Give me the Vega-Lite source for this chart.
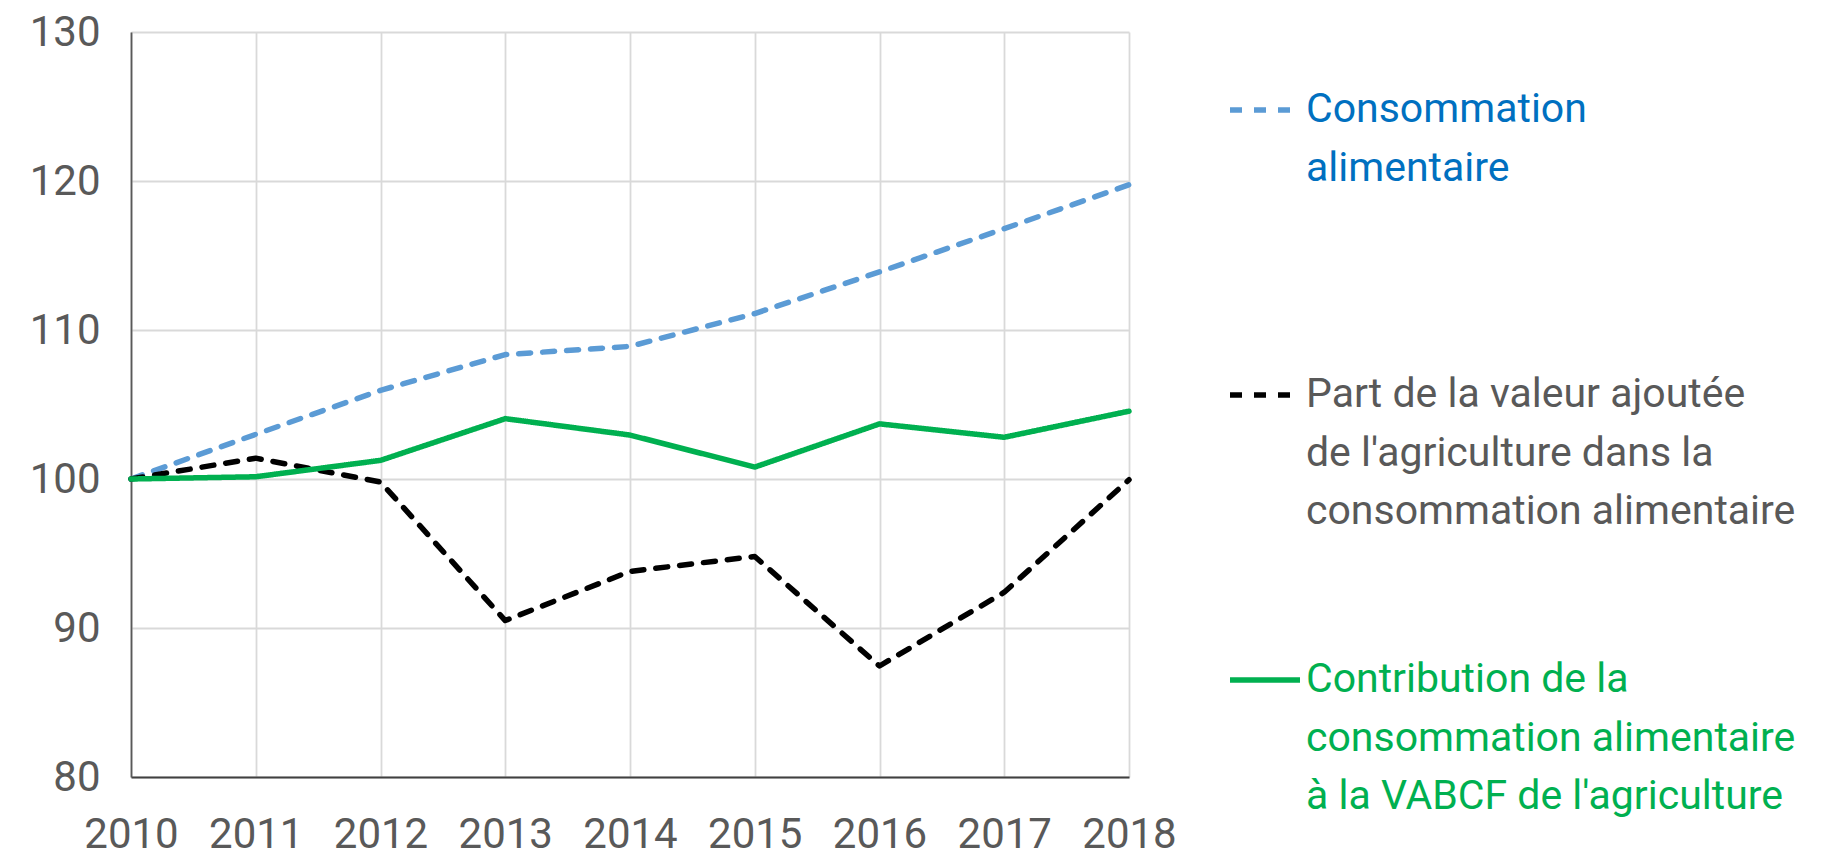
{
  "$schema": "https://vega.github.io/schema/vega-lite/v6.json",
  "width": 998,
  "height": 745,
  "autosize": {"type": "none"},
  "padding": {"left": 131, "top": 32, "right": 706, "bottom": 80},
  "background": "white",
  "config": {"view": {"stroke": null}, "font": "Roboto"},
  "data": {
    "values": [
      {"year": 2010, "series": "Consommation alimentaire", "value": 100},
      {"year": 2011, "series": "Consommation alimentaire", "value": 103.0},
      {"year": 2012, "series": "Consommation alimentaire", "value": 105.95},
      {"year": 2013, "series": "Consommation alimentaire", "value": 108.35},
      {"year": 2014, "series": "Consommation alimentaire", "value": 108.9},
      {"year": 2015, "series": "Consommation alimentaire", "value": 111.1},
      {"year": 2016, "series": "Consommation alimentaire", "value": 113.9},
      {"year": 2017, "series": "Consommation alimentaire", "value": 116.8},
      {"year": 2018, "series": "Consommation alimentaire", "value": 119.75},
      {"year": 2010, "series": "Part de la valeur ajoutée de l'agriculture dans la consommation alimentaire", "value": 100},
      {"year": 2011, "series": "Part de la valeur ajoutée de l'agriculture dans la consommation alimentaire", "value": 101.4},
      {"year": 2012, "series": "Part de la valeur ajoutée de l'agriculture dans la consommation alimentaire", "value": 99.8},
      {"year": 2013, "series": "Part de la valeur ajoutée de l'agriculture dans la consommation alimentaire", "value": 90.5},
      {"year": 2014, "series": "Part de la valeur ajoutée de l'agriculture dans la consommation alimentaire", "value": 93.8},
      {"year": 2015, "series": "Part de la valeur ajoutée de l'agriculture dans la consommation alimentaire", "value": 94.8},
      {"year": 2016, "series": "Part de la valeur ajoutée de l'agriculture dans la consommation alimentaire", "value": 87.45},
      {"year": 2017, "series": "Part de la valeur ajoutée de l'agriculture dans la consommation alimentaire", "value": 92.4},
      {"year": 2018, "series": "Part de la valeur ajoutée de l'agriculture dans la consommation alimentaire", "value": 99.95},
      {"year": 2010, "series": "Contribution de la consommation alimentaire à la VABCF de l'agriculture", "value": 100},
      {"year": 2011, "series": "Contribution de la consommation alimentaire à la VABCF de l'agriculture", "value": 100.15},
      {"year": 2012, "series": "Contribution de la consommation alimentaire à la VABCF de l'agriculture", "value": 101.25},
      {"year": 2013, "series": "Contribution de la consommation alimentaire à la VABCF de l'agriculture", "value": 104.05},
      {"year": 2014, "series": "Contribution de la consommation alimentaire à la VABCF de l'agriculture", "value": 102.95},
      {"year": 2015, "series": "Contribution de la consommation alimentaire à la VABCF de l'agriculture", "value": 100.8},
      {"year": 2016, "series": "Contribution de la consommation alimentaire à la VABCF de l'agriculture", "value": 103.7},
      {"year": 2017, "series": "Contribution de la consommation alimentaire à la VABCF de l'agriculture", "value": 102.8},
      {"year": 2018, "series": "Contribution de la consommation alimentaire à la VABCF de l'agriculture", "value": 104.55}
    ]
  },
  "mark": {"type": "line", "strokeCap": "round", "strokeJoin": "round"},
  "encoding": {
    "x": {
      "field": "year",
      "type": "quantitative",
      "scale": {"domain": [2010, 2018], "nice": false, "zero": false},
      "axis": {
        "title": null,
        "values": [2010, 2011, 2012, 2013, 2014, 2015, 2016, 2017, 2018],
        "format": "d",
        "ticks": false,
        "labelFont": "Roboto",
        "labelFontSize": 42,
        "labelColor": "#595959",
        "labelPadding": 37,
        "labelFlush": false,
        "labelOverlap": false,
        "grid": true,
        "gridColor": "#D9D9D9",
        "gridWidth": 1.8,
        "domainColor": "#404040",
        "domainWidth": 2.2
      }
    },
    "y": {
      "field": "value",
      "type": "quantitative",
      "scale": {"domain": [80, 130], "nice": false, "zero": false},
      "axis": {
        "title": null,
        "values": [80, 90, 100, 110, 120, 130],
        "ticks": false,
        "labelFont": "Roboto",
        "labelFontSize": 42,
        "labelColor": "#595959",
        "labelPadding": 31,
        "labelFlush": false,
        "labelOverlap": false,
        "grid": true,
        "gridColor": "#D9D9D9",
        "gridWidth": 1.8,
        "domainColor": "#595959",
        "domainWidth": 1.8
      }
    },
    "color": {
      "field": "series",
      "type": "nominal",
      "scale": {
        "domain": ["Consommation alimentaire", "Part de la valeur ajoutée de l'agriculture dans la consommation alimentaire", "Contribution de la consommation alimentaire à la VABCF de l'agriculture"],
        "range": ["#5B9BD5", "#000000", "#00B050"]
      },
      "legend": {
        "title": null,
        "orient": "none",
        "legendX": 1096,
        "legendY": 40,
        "direction": "vertical",
        "symbolType": "stroke",
        "symbolSize": 4900,
        "symbolStrokeWidth": 5.5,
        "labelFont": "Roboto",
        "labelFontSize": 41,
        "labelLimit": 0,
        "labelOffset": 3,
        "labelBaseline": "middle",
        "rowPadding": 110,
        "gridAlign": "all",
        "padding": 0,
        "labelExpr": "datum.value == 'Consommation alimentaire' ? ['Consommation', 'alimentaire'] : substring(datum.value, 0, 4) == 'Part' ? ['Part de la valeur ajoutée', \"de l'agriculture dans la\", 'consommation alimentaire'] : ['Contribution de la', 'consommation alimentaire', \"à la VABCF de l'agriculture\"]",
        "encode": {
          "labels": {
            "update": {
              "fill": {"signal": "datum.value == 'Consommation alimentaire' ? '#0070C0' : substring(datum.value, 0, 4) == 'Part' ? '#595959' : '#00B050'"},
              "lineHeight": {"value": 58.5}
            }
          }
        }
      }
    },
    "strokeDash": {
      "field": "series",
      "type": "nominal",
      "scale": {
        "domain": ["Consommation alimentaire", "Part de la valeur ajoutée de l'agriculture dans la consommation alimentaire", "Contribution de la consommation alimentaire à la VABCF de l'agriculture"],
        "range": [[12, 12], [12, 12], [1, 0]]
      }
    },
    "strokeWidth": {
      "field": "series",
      "type": "nominal",
      "scale": {
        "domain": ["Consommation alimentaire", "Part de la valeur ajoutée de l'agriculture dans la consommation alimentaire", "Contribution de la consommation alimentaire à la VABCF de l'agriculture"],
        "range": [5.5, 5.5, 6.5]
      }
    }
  }
}
